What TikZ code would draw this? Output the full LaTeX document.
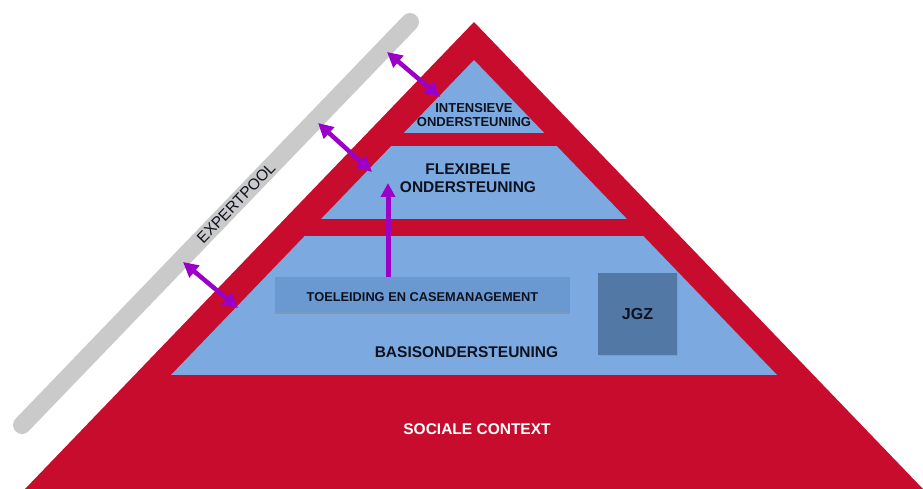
\documentclass[tikz,border=0pt]{standalone}
\usepackage{fontspec}
\setmainfont{Liberation Sans}
\usetikzlibrary{arrows.meta,shadows}
\definecolor{pyrred}{RGB}{200,12,46}
\definecolor{pyrblue}{RGB}{124,170,224}
\definecolor{boxblue}{RGB}{106,152,208}
\definecolor{jgzblue}{RGB}{82,120,166}
\definecolor{poolgrey}{RGB}{202,202,202}
\definecolor{linkpurple}{RGB}{155,0,200}
\definecolor{inktext}{RGB}{14,17,30}
\begin{document}
\begin{tikzpicture}[x=1pt,y=-1pt,
	lbl/.style={text=inktext,align=center,inner sep=0pt},
	link/.style={linkpurple,line width=4.5pt,{Triangle[length=15pt,width=15pt]}-{Triangle[length=15pt,width=15pt]}}]
	\useasboundingbox (0,0) rectangle (923,489);
	\draw[poolgrey,line width=18pt,line cap=round] (410,22) coordinate (pooltop) -- (22,425) coordinate (poolbot);
	\node[lbl,rotate=46,font=\fontsize{15.5}{18}\selectfont] (pool) at (236,203) {EXPERTPOOL};
	\fill[pyrred] (474,22) -- (25,489) -- (923,489) -- cycle;
	\begin{scope}
		\clip (474,60) -- (171,375) -- (777,375) -- cycle;
		\fill[pyrblue] (0,60) rectangle (923,133);
		\fill[pyrblue] (0,146) rectangle (923,219);
		\fill[pyrblue] (0,236) rectangle (923,375);
	\end{scope}
	\node[lbl,font=\bfseries\fontsize{13}{14.5}\selectfont] (intens) at (474,115) {INTENSIEVE\\ONDERSTEUNING};
	\node[lbl,font=\bfseries\fontsize{15.5}{18.5}\selectfont] (flex) at (468,178) {FLEXIBELE\\ONDERSTEUNING};
	\node[lbl,font=\bfseries\fontsize{15.5}{18}\selectfont] (basis) at (466.5,352.5) {BASISONDERSTEUNING};
	\node[lbl,text=white,font=\bfseries\fontsize{15.5}{18}\selectfont] (sociaal) at (477,429) {SOCIALE CONTEXT};
	\node[lbl,fill=boxblue,minimum width=295pt,minimum height=35pt,text height=14.2pt,text depth=0pt,
		drop shadow={opacity=0.4,shadow xshift=0pt,shadow yshift=-2pt},
		font=\bfseries\fontsize{12.8}{15}\selectfont] (toel) at (422.5,294.5) {TOELEIDING EN CASEMANAGEMENT};
	\node[lbl,fill=jgzblue,minimum width=79pt,minimum height=82pt,
		drop shadow={opacity=0.3,shadow xshift=1pt,shadow yshift=-1pt},
		font=\bfseries\fontsize{16}{18}\selectfont] (jgz) at (637.5,314) {JGZ};
	\coordinate (pool1) at (387,52);
	\coordinate (intin) at (440,97);
	\coordinate (pool2) at (318,123);
	\coordinate (flexin) at (372,172);
	\coordinate (pool3) at (183,262);
	\coordinate (basin) at (238,308);
	\coordinate (flexup) at (388,183);
	\draw[link] (pool1) -- (intin);
	\draw[link] (pool2) -- (flexin);
	\draw[link] (pool3) -- (basin);
	\draw[linkpurple,line width=5pt,-{Triangle[length=14pt,width=14pt]}] (toel.north -| flexup) -- (flexup);
\end{tikzpicture}
\end{document}
